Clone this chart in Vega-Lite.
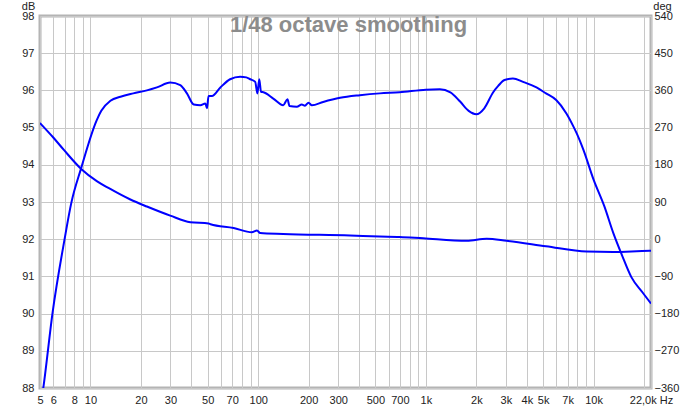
{
  "$schema": "https://vega.github.io/schema/vega-lite/v6.json",
  "width": 611,
  "height": 372,
  "autosize": {"type": "none"},
  "padding": {"left": 40, "top": 16, "right": 49, "bottom": 21},
  "background": "white",
  "title": {
    "text": "1/48 octave smoothing",
    "font": "Liberation Sans",
    "fontSize": 22,
    "fontWeight": "bold",
    "color": "#8c8c8c",
    "anchor": "middle",
    "frame": "group",
    "baseline": "alphabetic",
    "dx": 3,
    "dy": 58
  },
  "config": {
    "font": "Liberation Sans",
    "view": {"stroke": "#b4b4b4", "strokeWidth": 3},
    "axis": {
      "labelFont": "Liberation Sans",
      "labelColor": "#222222",
      "titleFont": "Liberation Sans",
      "titleColor": "#222222",
      "titleFontWeight": "normal",
      "gridColor": "#c8c8c8",
      "gridWidth": 1,
      "gridOpacity": 1,
      "domain": false,
      "ticks": false
    }
  },
  "datasets": {
    "mag": [
      {"f": 5.0, "v": 87.4}, {"f": 5.25, "v": 88.05}, {"f": 5.94, "v": 90.02}, {"f": 7.0, "v": 91.99},
      {"f": 7.68, "v": 92.97}, {"f": 8.8, "v": 93.91}, {"f": 10.9, "v": 95.2},
      {"f": 11.6, "v": 95.45}, {"f": 13.15, "v": 95.72}, {"f": 15.1, "v": 95.83}, {"f": 18, "v": 95.92},
      {"f": 21.7, "v": 96.0}, {"f": 24.9, "v": 96.08}, {"f": 29.9, "v": 96.21}, {"f": 34.3, "v": 96.14},
      {"f": 37.6, "v": 95.92}, {"f": 41.3, "v": 95.62}, {"f": 45.2, "v": 95.6}, {"f": 48.4, "v": 95.65},
      {"f": 49.5, "v": 95.52}, {"f": 50.6, "v": 95.85}, {"f": 53, "v": 95.85}, {"f": 59.5, "v": 96.08},
      {"f": 68, "v": 96.3}, {"f": 78, "v": 96.37}, {"f": 85, "v": 96.35}, {"f": 89.7, "v": 96.3},
      {"f": 96, "v": 96.23}, {"f": 98.9, "v": 95.92}, {"f": 101.5, "v": 96.3}, {"f": 104, "v": 95.96},
      {"f": 107.5, "v": 95.95}, {"f": 123, "v": 95.78}, {"f": 141, "v": 95.6}, {"f": 149.5, "v": 95.76},
      {"f": 153.8, "v": 95.58}, {"f": 170, "v": 95.56}, {"f": 182, "v": 95.62}, {"f": 190, "v": 95.59},
      {"f": 199.6, "v": 95.67}, {"f": 209, "v": 95.6}, {"f": 244, "v": 95.69}, {"f": 308, "v": 95.8},
      {"f": 404, "v": 95.87}, {"f": 531, "v": 95.92}, {"f": 698, "v": 95.95}, {"f": 1000, "v": 96.02},
      {"f": 1211, "v": 96.03}, {"f": 1400, "v": 95.95}, {"f": 1600, "v": 95.7}, {"f": 1800, "v": 95.45},
      {"f": 2000, "v": 95.36}, {"f": 2230, "v": 95.52}, {"f": 2520, "v": 95.95}, {"f": 2700, "v": 96.12},
      {"f": 2943, "v": 96.28}, {"f": 3304, "v": 96.32}, {"f": 3800, "v": 96.23}, {"f": 4567, "v": 96.08},
      {"f": 5203, "v": 95.92}, {"f": 5985, "v": 95.74}, {"f": 6885, "v": 95.38}, {"f": 7600, "v": 95.02},
      {"f": 7922, "v": 94.85}, {"f": 8700, "v": 94.4}, {"f": 10000, "v": 93.6}, {"f": 11600, "v": 92.88},
      {"f": 13100, "v": 92.17}, {"f": 14800, "v": 91.56}, {"f": 16800, "v": 90.98}, {"f": 19500, "v": 90.58},
      {"f": 22000, "v": 90.27}
    ],
    "phase": [
      {"f": 5.0, "v": 281}, {"f": 6.0, "v": 246}, {"f": 6.94, "v": 216}, {"f": 8.8, "v": 170},
      {"f": 10.96, "v": 140}, {"f": 12.8, "v": 124}, {"f": 17.3, "v": 96}, {"f": 21.7, "v": 79},
      {"f": 29.9, "v": 57}, {"f": 39.4, "v": 41}, {"f": 50.6, "v": 38}, {"f": 52, "v": 36},
      {"f": 71.4, "v": 27}, {"f": 91.6, "v": 17}, {"f": 98.4, "v": 21}, {"f": 102.7, "v": 15},
      {"f": 141, "v": 12.7}, {"f": 353, "v": 9}, {"f": 531, "v": 6.5}, {"f": 698, "v": 5.5},
      {"f": 965, "v": 2}, {"f": 1753, "v": -4}, {"f": 2303, "v": 1}, {"f": 3029, "v": -4},
      {"f": 5203, "v": -17}, {"f": 9100, "v": -30}, {"f": 13100, "v": -31}, {"f": 21600, "v": -28},
      {"f": 22000, "v": -28}
    ]
  },
  "layer": [
    {
      "data": {"name": "mag"},
      "mark": {"type": "line", "color": "#0000ff", "strokeWidth": 2, "clip": true, "interpolate": "monotone"},
      "encoding": {
        "x": {
          "field": "f",
          "type": "quantitative",
          "scale": {"type": "log", "domain": [5, 22000], "nice": false},
          "axis": {
            "title": null,
            "grid": true,
            "values": [5, 6, 7, 8, 9, 10, 20, 30, 40, 50, 60, 70, 80, 90, 100, 200, 300, 400, 500, 600, 700, 800, 900, 1000, 2000, 3000, 4000, 5000, 6000, 7000, 8000, 9000, 10000, 20000, 22000],
            "labelExpr": "datum.value == 22000 ? '22,0k Hz' : (indexof([5,6,8,10,20,30,50,70,100,200,300,500,700], datum.value) >= 0 ? ('' + datum.value) : (indexof([1000,2000,3000,4000,5000,7000,10000], datum.value) >= 0 ? ((datum.value / 1000) + 'k') : ''))",
            "labelFontSize": 11,
            "labelPadding": 6,
            "labelOverlap": false,
            "labelFlush": false,
            "labelBound": false
          }
        },
        "y": {
          "field": "v",
          "type": "quantitative",
          "scale": {"domain": [88, 98], "nice": false, "zero": false},
          "axis": {
            "orient": "left",
            "values": [88, 89, 90, 91, 92, 93, 94, 95, 96, 97, 98],
            "grid": true,
            "labelFontSize": 11,
            "labelPadding": 6,
            "title": "dB",
            "titleFontSize": 11,
            "titleAngle": 0,
            "titleAlign": "center",
            "titleBaseline": "alphabetic",
            "titleX": -12,
            "titleY": -7
          }
        }
      }
    },
    {
      "data": {"name": "phase"},
      "mark": {"type": "line", "color": "#0000ff", "strokeWidth": 2, "clip": true, "interpolate": "monotone"},
      "encoding": {
        "x": {"field": "f", "type": "quantitative", "scale": {"type": "log", "domain": [5, 22000], "nice": false}},
        "y": {
          "field": "v",
          "type": "quantitative",
          "scale": {"domain": [-360, 540], "nice": false, "zero": false},
          "axis": {
            "orient": "right",
            "values": [-360, -270, -180, -90, 0, 90, 180, 270, 360, 450, 540],
            "grid": false,
            "labelFontSize": 11,
            "labelPadding": 3,
            "title": "deg",
            "titleFontSize": 11,
            "titleAngle": 0,
            "titleAlign": "center",
            "titleBaseline": "alphabetic",
            "titleX": 11,
            "titleY": -7
          }
        }
      }
    }
  ],
  "resolve": {"scale": {"y": "independent"}}
}
